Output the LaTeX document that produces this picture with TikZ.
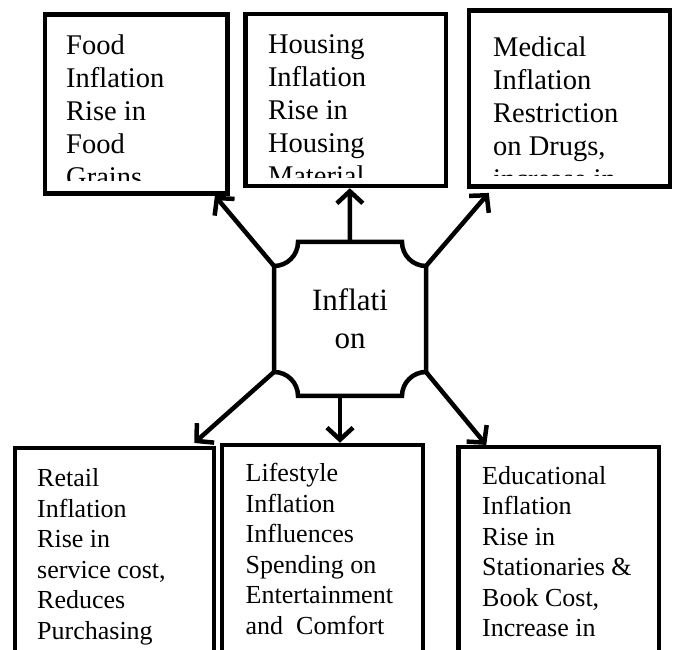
\documentclass[tikz,border=0pt]{standalone}
\usepackage{fontspec}
\setmainfont{Liberation Serif}
\usetikzlibrary{arrows.meta,positioning}

\begin{document}
\begin{tikzpicture}[x=1pt,y=1pt,
  box/.style={draw,line width=4.5pt,inner sep=0pt},
  boxtext/.style={anchor=base west,align=left,inner sep=0pt,font=\fontsize{28.5pt}{33pt}\selectfont},
  lowtext/.style={anchor=base west,align=left,inner sep=0pt,font=\fontsize{26pt}{30.5pt}\selectfont},
  arr/.style={line width=4.5pt,->,>={Straight Barb[length=12pt,width=26pt]}}]
  \useasboundingbox (0,0) rectangle (673,650);
  \clip (0,0) rectangle (673,650);
  \node[box,minimum width=182.7pt,minimum height=179pt] (F) at (136.3,546) {};
  \node[box,minimum width=200.5pt,minimum height=172pt] (H) at (345.8,550) {};
  \node[box,minimum width=200.8pt,minimum height=176.2pt] (M) at (569.4,551.4) {};
  \node[box,minimum width=199pt,minimum height=251.8pt] (R) at (114.5,75.9) {};
  \node[box,minimum width=200.6pt,minimum height=255pt] (L) at (322.5,77.5) {};
  \node[box,minimum width=200.5pt,minimum height=252.8pt] (E) at (558.75,76.4) {};
  \begin{scope}
    \clip (47,469) rectangle (225,634);
    \node[boxtext] (Ft) at (66,463.7) {Food\\Inflation\\Rise in\\Food\\Grains};
  \end{scope}
  \begin{scope}
    \clip (248,472.3) rectangle (443,634);
    \node[boxtext] (Ht) at (267.8,464.7) {Housing\\Inflation\\Rise in\\Housing\\Material};
  \end{scope}
  \begin{scope}
    \clip (471,474) rectangle (667,637);
    \node[boxtext] (Mt) at (493,461.3) {Medical\\Inflation\\Restriction\\on Drugs,\\increase in};
  \end{scope}
  \node[lowtext] (Rt) at (37,10.5) {Retail\\Inflation\\Rise in\\service cost,\\Reduces\\Purchasing};
  \node[lowtext] (Lt) at (245.5,15.8) {Lifestyle\\Inflation\\Influences\\Spending on\\Entertainment\\and\ \ Comfort};
  \node[lowtext] (Et) at (482,13.2) {Educational\\Inflation\\Rise in\\Stationaries \&\\Book Cost,\\Increase in};
  \draw[line width=4.5pt] (274,384) coordinate (NW) -- (274,278) coordinate (SW)
    arc[start angle=90,end angle=0,radius=24pt] -- (402,254)
    arc[start angle=180,end angle=90,radius=24pt] coordinate (SE) -- (426,384) coordinate (NE)
    arc[start angle=270,end angle=180,radius=24pt] -- (298,408)
    arc[start angle=0,end angle=-90,radius=24pt] -- cycle;
  \coordinate (N) at (350,408);
  \coordinate (S) at (340,254);
  \node[inner sep=0pt,align=center,font=\fontsize{31pt}{38pt}\selectfont] (I) at (350,331) {Inflati\\on};
  \draw[arr] (NW) -- ([xshift=-15pt]F.south east);
  \draw[arr] (N) -- ([xshift=4pt]H.south);
  \draw[arr] (NE) -- ([xshift=22pt,yshift=-4pt]M.south west);
  \draw[arr] (SW) -- ([xshift=-22pt,yshift=3pt]R.north east);
  \draw[arr] (S) -- ([xshift=17.5pt]L.north);
  \draw[arr] (SE) -- ([xshift=30pt]E.north west);
\end{tikzpicture}
\end{document}
